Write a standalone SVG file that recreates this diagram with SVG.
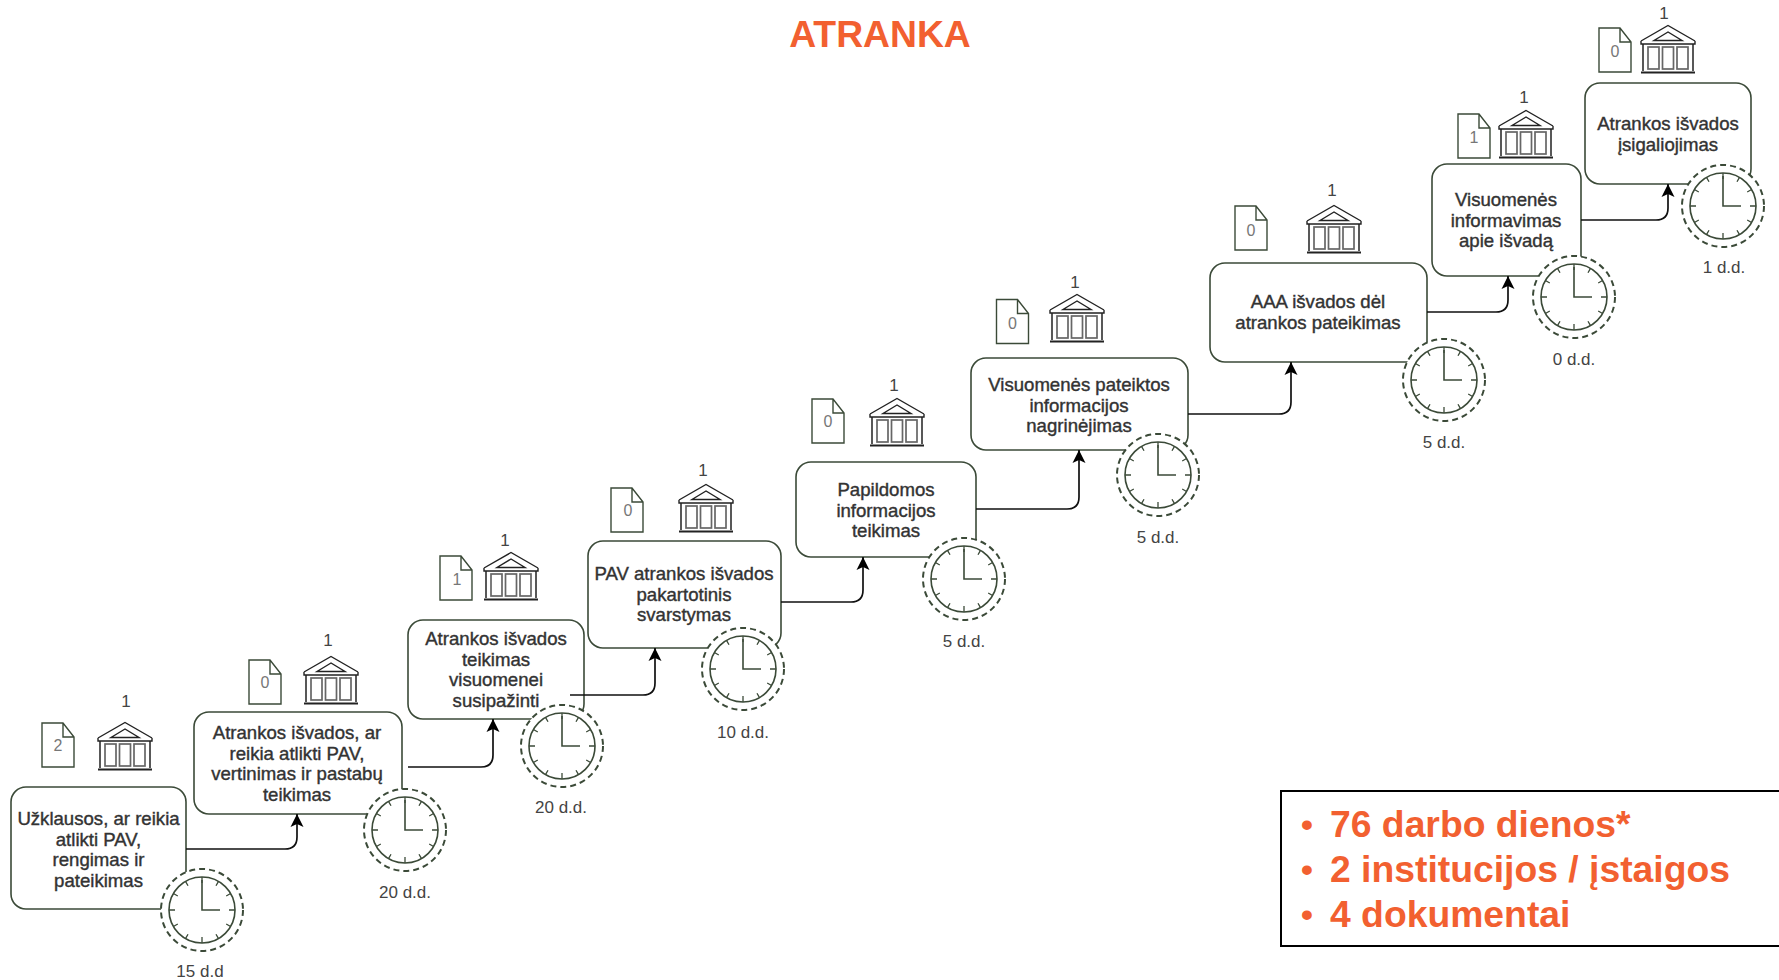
<svg xmlns="http://www.w3.org/2000/svg" width="1779" height="980" viewBox="0 0 1779 980">
<style>
text{font-family:"Liberation Sans",Arial,sans-serif}
.t{font-size:18.600px;fill:#333;text-anchor:middle;stroke:#333;stroke-width:.4}
.s{font-size:17px;fill:#444;text-anchor:middle}
.d{font-size:16px;fill:#777;text-anchor:middle}
.b{fill:#fff;stroke:#3b4a38;stroke-width:1.6}
.c{fill:none;stroke:#111;stroke-width:1.7}
.o{fill:#f26030;font-weight:bold}
</style>
<defs>
<marker id="ah" markerUnits="userSpaceOnUse" markerWidth="14" markerHeight="16" refX="13" refY="7" orient="auto"><path d="M13,7 L0,0.5 L3,7 L0,13.5 Z" fill="#000"/></marker>
<g id="clock">
<circle r="41" fill="#fff" stroke="#3b4a38" stroke-width="2" stroke-dasharray="6 4"/>
<circle r="33" fill="#fff" stroke="#3b4a38" stroke-width="1.6"/>
<path d="M0,-33V-27M0,33V27M-33,0H-27M33,0H27M16.500,-28.600L14,-24.200M-16.500,-28.600L-14,-24.200M16.500,28.600L14,24.200M-16.500,28.600L-14,24.200M28.600,-16.500L24.200,-14M-28.600,-16.500L-24.200,-14M28.600,16.500L24.200,14M-28.600,16.500L-24.200,14" fill="none" stroke="#3b4a38" stroke-width="1.300"/>
<path d="M0,-30V0H18" fill="none" stroke="#3b4a38" stroke-width="1.600"/>
</g>
<path id="doc" d="M-16,-22H5L16,-8V22H-16Z M5,-22V-8H16" fill="#fff" stroke="#3b4a38" stroke-width="1.400"/>
<g id="bank" fill="none" stroke="#222" stroke-width="1.400">
<path d="M-27,16L0,0.500L27,16M-27,16V19H27V16"/>
<path d="M0,7L-14,15.500H14Z"/>
<path d="M-25,19V46M25,19V46" stroke-width="1.500"/>
<g stroke="#666" stroke-width="1.700"><rect x="-20" y="22" width="11" height="22"/><rect x="-5.500" y="22" width="11" height="22"/><rect x="9" y="22" width="11" height="22"/></g>
<path d="M-27,47.500H27" stroke-width="2.200"/>
</g>
</defs>
<text x="880" y="47" font-size="37.300" text-anchor="middle" class="o">ATRANKA</text>
<g id="n1"><rect class="b" x="11" y="787" width="175" height="122" rx="15"/><text class="t"><tspan x="98.500" y="825">Užklausos, ar reikia</tspan><tspan x="98.500" y="846">atlikti PAV,</tspan><tspan x="98.500" y="866">rengimas ir</tspan><tspan x="98.500" y="887">pateikimas</tspan></text>
<use href="#clock" x="202" y="910"/><text class="s" x="200" y="977">15 d.d</text>
<use href="#doc" x="58" y="745"/><text class="d" x="58" y="751">2</text><use href="#bank" x="125" y="722"/><text class="s" x="126" y="707">1</text></g>
<g id="n2"><rect class="b" x="194" y="712" width="208" height="102" rx="15"/><text class="t"><tspan x="297" y="739">Atrankos išvados, ar</tspan><tspan x="297" y="760">reikia atlikti PAV,</tspan><tspan x="297" y="780">vertinimas ir pastabų</tspan><tspan x="297" y="801">teikimas</tspan></text>
<use href="#clock" x="405" y="830"/><text class="s" x="405" y="898">20 d.d.</text>
<use href="#doc" x="265" y="682"/><text class="d" x="265" y="688">0</text><use href="#bank" x="331" y="656"/><text class="s" x="328" y="646">1</text></g>
<g id="n3"><rect class="b" x="408" y="620" width="176" height="99" rx="15"/><text class="t"><tspan x="496" y="645">Atrankos išvados</tspan><tspan x="496" y="666">teikimas</tspan><tspan x="496" y="686">visuomenei</tspan><tspan x="496" y="707">susipažinti</tspan></text>
<use href="#clock" x="562" y="746"/><text class="s" x="561" y="813">20 d.d.</text>
<use href="#doc" x="456" y="578"/><text class="d" x="457" y="585">1</text><use href="#bank" x="511" y="552"/><text class="s" x="505" y="546">1</text></g>
<g id="n4"><rect class="b" x="588" y="541" width="193" height="107" rx="15"/><text class="t"><tspan x="684" y="580">PAV atrankos išvados</tspan><tspan x="684" y="601">pakartotinis</tspan><tspan x="684" y="621">svarstymas</tspan></text>
<use href="#clock" x="743" y="669"/><text class="s" x="743" y="738">10 d.d.</text>
<use href="#doc" x="627" y="510"/><text class="d" x="628" y="516">0</text><use href="#bank" x="706" y="484"/><text class="s" x="703" y="476">1</text></g>
<g id="n5"><rect class="b" x="796" y="462" width="180" height="95" rx="15"/><text class="t"><tspan x="886" y="496">Papildomos</tspan><tspan x="886" y="517">informacijos</tspan><tspan x="886" y="537">teikimas</tspan></text>
<use href="#clock" x="964" y="579"/><text class="s" x="964" y="647">5 d.d.</text>
<use href="#doc" x="828" y="421"/><text class="d" x="828" y="427">0</text><use href="#bank" x="897" y="398"/><text class="s" x="894" y="391">1</text></g>
<g id="n6"><rect class="b" x="971" y="358" width="217" height="92" rx="15"/><text class="t"><tspan x="1079" y="391">Visuomenės pateiktos</tspan><tspan x="1079" y="412">informacijos</tspan><tspan x="1079" y="432">nagrinėjimas</tspan></text>
<use href="#clock" x="1158" y="475"/><text class="s" x="1158" y="543">5 d.d.</text>
<use href="#doc" x="1012.500" y="321.500"/><text class="d" x="1012.500" y="329">0</text><use href="#bank" x="1077" y="294"/><text class="s" x="1075" y="288">1</text></g>
<g id="n7"><rect class="b" x="1210" y="263" width="217" height="99" rx="15"/><text class="t"><tspan x="1318" y="308">AAA išvados dėl</tspan><tspan x="1318" y="329">atrankos pateikimas</tspan></text>
<use href="#clock" x="1444" y="380"/><text class="s" x="1444" y="448">5 d.d.</text>
<use href="#doc" x="1251" y="228"/><text class="d" x="1251" y="236">0</text><use href="#bank" x="1334" y="205"/><text class="s" x="1332" y="196">1</text></g>
<g id="n8"><rect class="b" x="1432" y="164" width="149" height="112" rx="15"/><text class="t"><tspan x="1506" y="206">Visuomenės</tspan><tspan x="1506" y="227">informavimas</tspan><tspan x="1506" y="247">apie išvadą</tspan></text>
<use href="#clock" x="1574" y="297"/><text class="s" x="1574" y="365">0 d.d.</text>
<use href="#doc" x="1474" y="136"/><text class="d" x="1474" y="143">1</text><use href="#bank" x="1526" y="110"/><text class="s" x="1524" y="103">1</text></g>
<g id="n9"><rect class="b" x="1585" y="83" width="166" height="101" rx="15"/><text class="t"><tspan x="1668" y="130">Atrankos išvados</tspan><tspan x="1668" y="151">įsigaliojimas</tspan></text>
<use href="#clock" x="1723" y="206"/><text class="s" x="1724" y="273">1 d.d.</text>
<use href="#doc" x="1615" y="50"/><text class="d" x="1615" y="57">0</text><use href="#bank" x="1668" y="25"/><text class="s" x="1664" y="19">1</text></g>
<g id="connectors">
<path class="c" d="M186,849H285Q297,849 297,837V814" marker-end="url(#ah)"/>
<path class="c" d="M408,767H481Q493,767 493,755V719" marker-end="url(#ah)"/>
<path class="c" d="M570,695H643Q655,695 655,683V648" marker-end="url(#ah)"/>
<path class="c" d="M781,602H851Q863,602 863,590V557" marker-end="url(#ah)"/>
<path class="c" d="M976,509H1067Q1079,509 1079,497V450" marker-end="url(#ah)"/>
<path class="c" d="M1188,414H1279Q1291,414 1291,402V362" marker-end="url(#ah)"/>
<path class="c" d="M1427,312H1496Q1508,312 1508,300V276" marker-end="url(#ah)"/>
<path class="c" d="M1581,220H1656Q1668,220 1668,208V184" marker-end="url(#ah)"/>
</g>
<g id="summary"><rect x="1281" y="791" width="510" height="155" fill="#fff" stroke="#000" stroke-width="2"/>
<text class="o" font-size="37.300"><tspan x="1330" y="837">76 darbo dienos*</tspan><tspan x="1330" y="882">2 institucijos / įstaigos</tspan><tspan x="1330" y="927">4 dokumentai</tspan></text>
<text class="o" font-size="34" text-anchor="middle"><tspan x="1307" y="836">•</tspan><tspan x="1307" y="881">•</tspan><tspan x="1307" y="926">•</tspan></text></g>
</svg>
